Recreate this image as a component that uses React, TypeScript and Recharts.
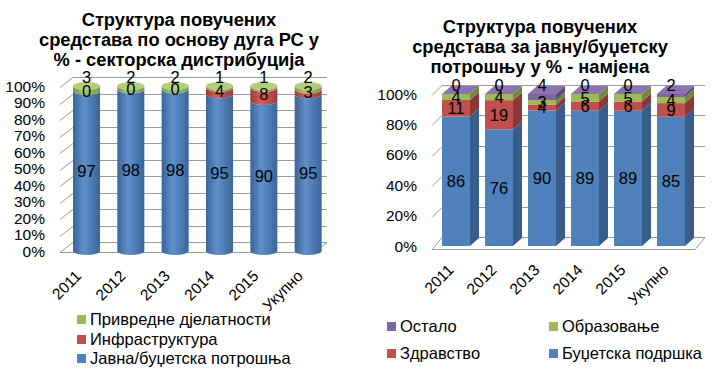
import { Bar, BarChart, CartesianGrid, XAxis, YAxis } from "recharts";

const years = ["2011", "2012", "2013", "2014", "2015", "Укупно"];

// left chart – sector distribution
const javna = [97, 98, 98, 95, 90, 95];
const infra = [0, 0, 0, 4, 8, 3];
const privredne = [3, 2, 2, 1, 1, 2];

// right chart – purpose of budget spending
const budzet = [86, 76, 90, 89, 89, 85];
const zdravstvo = [11, 19, 4, 6, 6, 9];
const obrazovanje = [4, 4, 3, 5, 5, 4];
const ostalo = [0, 0, 4, 0, 0, 2];

const pctTicks = [0, 0.1, 0.2, 0.3, 0.4, 0.5, 0.6, 0.7, 0.8, 0.9, 1];
const pctTicksR = [0, 0.2, 0.4, 0.6, 0.8, 1];

const leftData = years.map((y, i) => ({ year: y, javna: javna[i], infra: infra[i], privredne: privredne[i] }));
const rightData = years.map((y, i) => ({
  year: y,
  budzet: budzet[i],
  zdravstvo: zdravstvo[i],
  obrazovanje: obrazovanje[i],
  ostalo: ostalo[i],
}));

const FONT = '"Liberation Sans", Arial, sans-serif';
const BLUE = "#4f81bd";
const RED = "#c0504d";
const GREEN = "#9bbb59";
const PURPLE = "#8064a2";
const GRID = "#9a9a9a";

const XH = 30; // x axis band height
// left geometry
const L_TOP = 86;
const L_BOT = 251;
// right geometry
const R_TOP = 94;
const R_BOT = 246;

const fmtPct = (v: number) => `${Math.round(v * 100)}%`;

function makeCyl(topCap: boolean) {
  return (p: any) => {
    const { x, y, width, height, fill } = p;
    const rx = width / 2;
    const ry = 4;
    const cx = x + rx;
    const parts = [];
    if (height > 0.5) {
      const d = `M${x},${y} A${rx},${ry} 0 0 0 ${x + width},${y} L${x + width},${y + height} A${rx},${ry} 0 0 1 ${x},${y + height} Z`;
      parts.push(<path key="b" d={d} fill={fill} />);
    }
    if (topCap) parts.push(<ellipse key="c" cx={cx} cy={L_TOP} rx={rx} ry={ry} fill="#b3cd7c" />);
    return <g>{parts}</g>;
  };
}

function makeBox(front: string, side: string, topCap: boolean) {
  return (p: any) => {
    const { x, y, width, height } = p;
    const dx = 9;
    const dy = 8;
    const parts = [];
    if (height > 0.3) {
      parts.push(<rect key="f" x={x} y={y} width={width} height={height} fill={front} />);
      parts.push(
        <path
          key="s"
          d={`M${x + width},${y} L${x + width + dx},${y - dy} L${x + width + dx},${y + height - dy} L${x + width},${y + height} Z`}
          fill={side}
        />
      );
    }
    if (topCap)
      parts.push(
        <path
          key="t"
          d={`M${x},${R_TOP} L${x + dx},${R_TOP - dy} L${x + width + dx},${R_TOP - dy} L${x + width},${R_TOP} Z`}
          fill="#8d73ad"
        />
      );
    return <g>{parts}</g>;
  };
}

function makeLabel(values: number[], above: number | null) {
  return (p: any) => {
    const { x, y, width, height, index } = p;
    const cy = above !== null ? above : y + height / 2;
    return (
      <text
        x={x + width / 2}
        y={cy}
        dy="0.36em"
        textAnchor="middle"
        fontSize={16.5}
        fontFamily={FONT}
        fill="#000"
      >
        {values[index]}
      </text>
    );
  };
}

// 3D grid line as plain <line>s: front-left diagonal, then the back wall; 0% also gets the floor edge
function gridLines(yIn: number, front: number, back: number, right: number, dy: number, floorOff: number, isFloor: boolean) {
  const y = Math.round(yIn) + 0.5;
  const k = `l${Math.round(yIn)}`;
  if (isFloor) {
    const fy = y + floorOff;
    const by = fy - dy - floorOff;
    return (
      <g key={k}>
        <line x1={front} y1={fy} x2={back} y2={by} stroke={GRID} strokeWidth={1} />
        <line x1={back} y1={by} x2={right} y2={by} stroke={GRID} strokeWidth={1} />
        <line x1={front} y1={fy} x2={right - (back - front)} y2={fy} stroke={GRID} strokeWidth={1} />
        <line x1={right - (back - front)} y1={fy} x2={right} y2={by} stroke={GRID} strokeWidth={1} />
      </g>
    );
  }
  return (
    <g key={k}>
      <line x1={front} y1={y + 1} x2={back} y2={y - dy} stroke={GRID} strokeWidth={1} />
      <line x1={back} y1={y - dy} x2={right} y2={y - dy} stroke={GRID} strokeWidth={1} />
    </g>
  );
}

const makeGrid = (front: number, back: number, right: number, dy: number, floorOff: number, bottomY: number) => (p: any) =>
  gridLines(Number(p.y1), front, back, right, dy, floorOff, Math.abs(Number(p.y1) - bottomY) < 1);

const yTick = (xEnd: number) => (p: any) => (
  <text x={xEnd} y={p.y} dy="0.36em" textAnchor="end" fontSize={15.5} fontFamily={FONT} fill="#000">
    {fmtPct(p.payload.value)}
  </text>
);

const xTick = (yBase: number, off: number) => (p: any) => (
  <text
    transform={`translate(${p.x + off},${yBase}) rotate(-45)`}
    textAnchor="end"
    fontSize={15.5}
    fontFamily={FONT}
    fill="#000"
  >
    {p.payload.value}
  </text>
);

const titleStyle: React.CSSProperties = {
  position: "absolute",
  textAlign: "center",
  fontWeight: "bold",
  fontSize: 18.3,
  lineHeight: "20px",
  fontFamily: FONT,
  color: "#000",
  whiteSpace: "nowrap",
};

const legItem = (left: number, top: number, color: string, text: string) => (
  <div
    key={text}
    style={{
      position: "absolute",
      left,
      top: top - 9,
      height: 18,
      display: "flex",
      alignItems: "center",
      fontSize: 16.5,
      fontFamily: FONT,
      whiteSpace: "nowrap",
    }}
  >
    <span style={{ display: "inline-block", width: 9, height: 9, background: color, marginRight: 4 }} />
    {text}
  </div>
);

export default function App() {
  return (
    <div style={{ position: "absolute", left: 0, top: 0, width: 714, height: 368, background: "#fff" }}>
      <svg width={0} height={0} style={{ position: "absolute" }}>
        <defs>
          <linearGradient id="gBlue" x1="0" y1="0" x2="1" y2="0">
            <stop offset="0%" stopColor="#3a6496" />
            <stop offset="40%" stopColor="#5f90cc" />
            <stop offset="100%" stopColor="#3b6598" />
          </linearGradient>
          <linearGradient id="gRed" x1="0" y1="0" x2="1" y2="0">
            <stop offset="0%" stopColor="#983b38" />
            <stop offset="40%" stopColor="#d2615e" />
            <stop offset="100%" stopColor="#9a3d3a" />
          </linearGradient>
          <linearGradient id="gGreen" x1="0" y1="0" x2="1" y2="0">
            <stop offset="0%" stopColor="#7b9645" />
            <stop offset="40%" stopColor="#a8c768" />
            <stop offset="100%" stopColor="#7c9746" />
          </linearGradient>
        </defs>
      </svg>

      <div style={{ ...titleStyle, left: 20, top: 10, width: 318 }}>
        Структура повучених
        <br />
        средстава по основу дуга РС у
        <br />% - секторска дистрибуција
      </div>
      <div style={{ ...titleStyle, left: 390, top: 17, width: 300 }}>
        Структура повучених
        <br />
        средстава за јавну/буџетску
        <br />
        потрошњу у % - намјена
      </div>

      <div style={{ position: "absolute", left: 0, top: 0 }}>
        <BarChart
          width={345}
          height={368}
          data={leftData}
          stackOffset="expand"
          margin={{ top: L_TOP, bottom: 368 - L_BOT - XH, left: 0, right: 15 }}
        >
          <CartesianGrid vertical={false} syncWithTicks horizontal={makeGrid(60, 73, 327, 9, 1, L_BOT)} />
          <YAxis
            width={64}
            domain={[0, 1]}
            ticks={pctTicks}
            interval={0}
            axisLine={false}
            tickLine={false}
            tick={yTick(45)}
          />
          <XAxis dataKey="year" axisLine={false} tickLine={false} height={XH} interval={0} tick={xTick(L_BOT + 26, -4)} />
          <Bar dataKey="javna" stackId="a" barSize={27} fill="url(#gBlue)" shape={makeCyl(true)} label={makeLabel(javna, null)} isAnimationActive={false} />
          <Bar dataKey="infra" stackId="a" barSize={27} fill="url(#gRed)" shape={makeCyl(false)} label={makeLabel(infra, null)} isAnimationActive={false} />
          <Bar dataKey="privredne" stackId="a" barSize={27} fill="url(#gGreen)" shape={makeCyl(false)} label={makeLabel(privredne, L_TOP - 9)} isAnimationActive={false} />
        </BarChart>
      </div>

      <div style={{ position: "absolute", left: 357, top: 0 }}>
        <BarChart
          width={357}
          height={368}
          data={rightData}
          stackOffset="expand"
          margin={{ top: R_TOP, bottom: 368 - R_BOT - XH, left: 0, right: 22 }}
        >
          <CartesianGrid vertical={false} syncWithTicks horizontal={makeGrid(75, 85, 348, 9, 3, R_BOT)} />
          <YAxis
            width={77}
            domain={[0, 1]}
            ticks={pctTicksR}
            interval={0}
            axisLine={false}
            tickLine={false}
            tick={yTick(60)}
          />
          <XAxis dataKey="year" axisLine={false} tickLine={false} height={XH} interval={0} tick={xTick(R_BOT + 25, -1)} />
          <Bar dataKey="budzet" stackId="a" barSize={28} fill={BLUE} shape={makeBox(BLUE, "#385d8a", true)} label={makeLabel(budzet, null)} isAnimationActive={false} />
          <Bar dataKey="zdravstvo" stackId="a" barSize={28} fill={RED} shape={makeBox(RED, "#8c3836", false)} label={makeLabel(zdravstvo, null)} isAnimationActive={false} />
          <Bar dataKey="obrazovanje" stackId="a" barSize={28} fill={GREEN} shape={makeBox(GREEN, "#71893f", false)} label={makeLabel(obrazovanje, null)} isAnimationActive={false} />
          <Bar dataKey="ostalo" stackId="a" barSize={28} fill={PURPLE} shape={makeBox(PURPLE, "#5c4776", false)} label={makeLabel(ostalo, R_TOP - 9)} isAnimationActive={false} />
        </BarChart>
      </div>

      {legItem(77, 319, GREEN, "Привредне дјелатности")}
      {legItem(77, 339, RED, "Инфраструктура")}
      {legItem(77, 358, BLUE, "Јавна/буџетска потрошња")}

      {legItem(387, 326, PURPLE, "Остало")}
      {legItem(549, 326, GREEN, "Образовање")}
      {legItem(387, 353, RED, "Здравство")}
      {legItem(549, 353, BLUE, "Буџетска подршка")}
    </div>
  );
}
